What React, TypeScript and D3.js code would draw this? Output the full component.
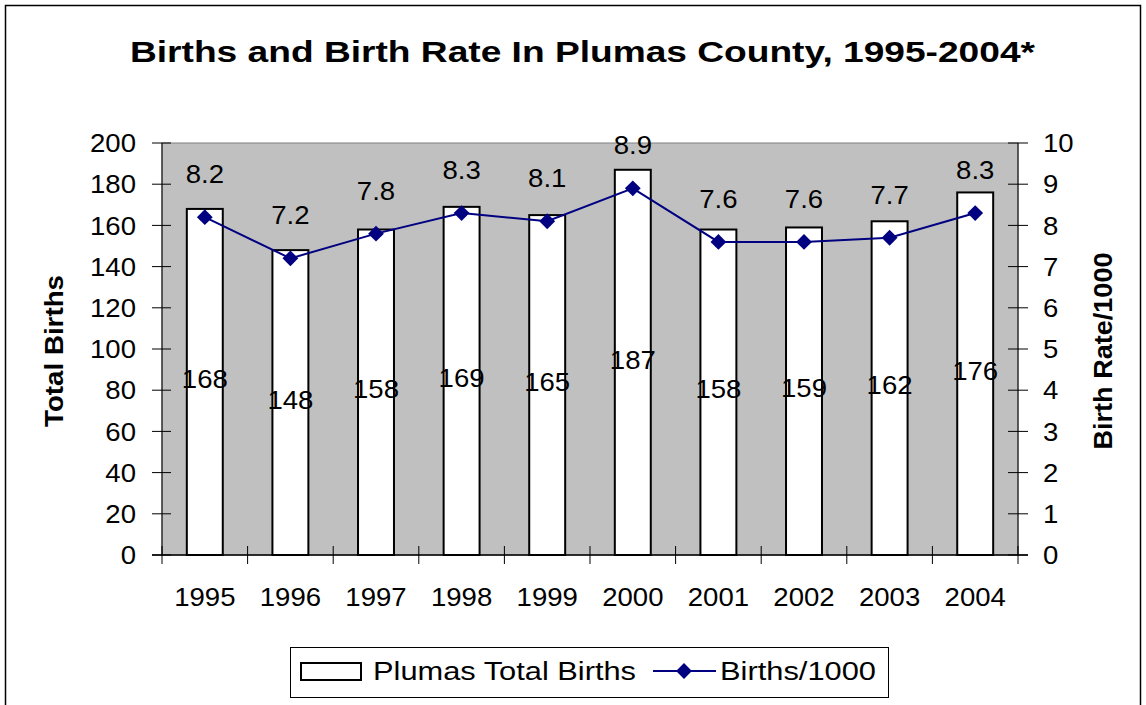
import React from "react";
import * as d3 from "d3";

const years = ["1995", "1996", "1997", "1998", "1999", "2000", "2001", "2002", "2003", "2004"];
const totalBirths = [168, 148, 158, 169, 165, 187, 158, 159, 162, 176];
const birthRate = [8.2, 7.2, 7.8, 8.3, 8.1, 8.9, 7.6, 7.6, 7.7, 8.3];
const leftTicks = [0, 20, 40, 60, 80, 100, 120, 140, 160, 180, 200];
const rightTicks = [0, 1, 2, 3, 4, 5, 6, 7, 8, 9, 10];

export default function App() {
  const W = 1146, H = 705;
  const L = 162, R = 1018, T = 143, B = 555;
  const x = d3.scaleBand<string>().domain(years).range([L, R]).paddingInner(0).paddingOuter(0);
  const yL = d3.scaleLinear().domain([0, 200]).range([B, T]);
  const yR = d3.scaleLinear().domain([0, 10]).range([B, T]);
  const bw = x.bandwidth() * 0.42;
  const cx = (yr: string) => x(yr)! + x.bandwidth() / 2;
  const font = "Liberation Sans, Arial, sans-serif";
  const FS = 26;
  const SX = 1.06;
  const line = d3.line<number>().x((_, i) => cx(years[i])).y((d) => yR(d));
  const diamond = d3.symbol().type(d3.symbolSquare).size(125)();
  const boundaries = d3.range(years.length + 1).map((i) => L + i * x.bandwidth());
  const T_ = (px: number, py: number) => `translate(${px},${py}) scale(${SX},1)`;
  return (
    <svg width={W} height={H} style={{ position: "absolute", left: 0, top: 0 }} fontFamily={font}>
      <rect x={0} y={0} width={W} height={H} fill="#fff" />
      <rect x={5.5} y={5.5} width={1135} height={720} fill="none" stroke="#000" strokeWidth={1.5} />
      <text x={582.5} y={62} textAnchor="middle" fontSize={29} fontWeight="bold"
        textLength={905} lengthAdjust="spacingAndGlyphs">
        Births and Birth Rate In Plumas County, 1995-2004*
      </text>
      <rect x={L} y={T} width={R - L} height={B - T} fill="#c0c0c0" stroke="#808080" strokeWidth={1} />
      {years.map((yr, i) => (
        <rect key={yr} x={x(yr)! + (x.bandwidth() - bw) / 2} y={yL(totalBirths[i])} width={bw}
          height={B - yL(totalBirths[i])} fill="#fff" stroke="#000" strokeWidth={2} />
      ))}
      {/* left axis */}
      <line x1={L} x2={L} y1={T} y2={B} stroke="#000" strokeWidth={1} />
      {leftTicks.map((t) => (
        <g key={t}>
          <line x1={152} x2={171} y1={yL(t)} y2={yL(t)} stroke="#000" strokeWidth={1} />
          <text transform={T_(136, yL(t))} dy="0.35em" textAnchor="end" fontSize={FS}>{t}</text>
        </g>
      ))}
      {/* right axis */}
      <line x1={R} x2={R} y1={T} y2={B} stroke="#000" strokeWidth={1} />
      {rightTicks.map((t) => (
        <g key={t}>
          <line x1={R - 10} x2={R + 10} y1={yR(t)} y2={yR(t)} stroke="#000" strokeWidth={1} />
          <text transform={T_(1043, yR(t))} dy="0.35em" textAnchor="start" fontSize={FS}>{t}</text>
        </g>
      ))}
      {/* x axis */}
      <line x1={L - 10} x2={R + 10} y1={B} y2={B} stroke="#000" strokeWidth={1.5} />
      {boundaries.map((bx, i) => (
        <line key={i} x1={bx} x2={bx} y1={B - 9} y2={B + 9} stroke="#000" strokeWidth={1} />
      ))}
      {years.map((yr) => (
        <text key={yr} transform={T_(cx(yr), 606)} textAnchor="middle" fontSize={FS}>{yr}</text>
      ))}
      {/* bar value labels */}
      {years.map((yr, i) => (
        <text key={yr} transform={T_(cx(yr), (yL(totalBirths[i]) + B) / 2 - 3)} dy="0.35em"
          textAnchor="middle" fontSize={FS}>{totalBirths[i]}</text>
      ))}
      {/* line */}
      <path d={line(birthRate) || ""} fill="none" stroke="#000080" strokeWidth={2} />
      {birthRate.map((v, i) => (
        <path key={i} d={diamond!} transform={`translate(${cx(years[i])},${yR(v)}) rotate(45)`} fill="#000080" />
      ))}
      {birthRate.map((v, i) => (
        <text key={i} transform={T_(cx(years[i]), yR(v) - 43)} dy="0.35em" textAnchor="middle" fontSize={FS}>
          {v.toFixed(1)}
        </text>
      ))}
      {/* axis titles */}
      <text transform={`translate(63,351) rotate(-90)`} textAnchor="middle" fontSize={25} fontWeight="bold"
        textLength={152} lengthAdjust="spacingAndGlyphs">Total Births</text>
      <text transform={`translate(1112,351) rotate(-90)`} textAnchor="middle" fontSize={25} fontWeight="bold"
        textLength={197} lengthAdjust="spacingAndGlyphs">Birth Rate/1000</text>
      {/* legend */}
      <rect x={290.5} y={647.5} width={598} height={50} fill="#fff" stroke="#000" strokeWidth={1} />
      <rect x={301} y={663} width={60} height={17} fill="#fff" stroke="#000" strokeWidth={2} />
      <text x={373} y={671} dy="0.35em" fontSize={FS} textLength={263} lengthAdjust="spacingAndGlyphs">Plumas Total Births</text>
      <line x1={653} x2={716} y1={671} y2={671} stroke="#000080" strokeWidth={2} />
      <path d={diamond!} transform="translate(684,671) rotate(45)" fill="#000080" />
      <text x={720} y={671} dy="0.35em" fontSize={FS} textLength={156} lengthAdjust="spacingAndGlyphs">Births/1000</text>
    </svg>
  );
}
